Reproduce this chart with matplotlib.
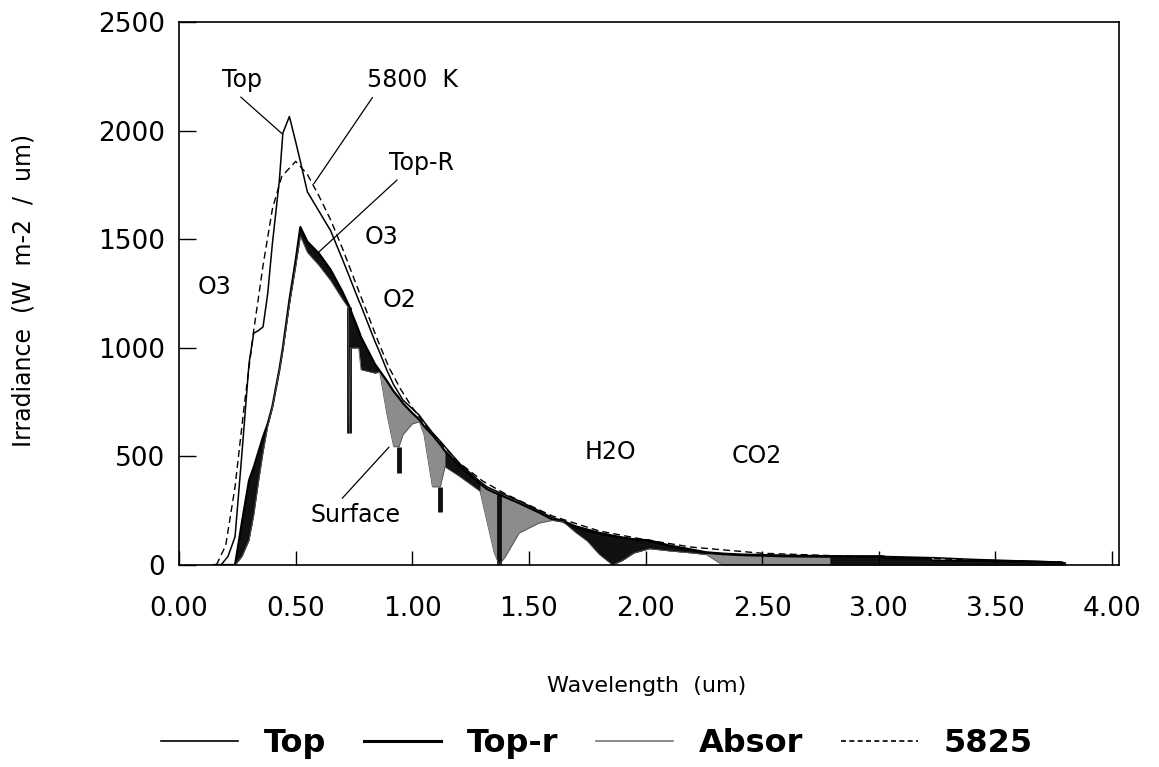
import numpy as np
import matplotlib
matplotlib.use("Agg")
import matplotlib.pyplot as plt
from matplotlib.lines import Line2D

# wavelength grid (um) and irradiances (W m-2 / um)
wl = [0.15, 0.18, 0.21, 0.24, 0.27, 0.30, 0.32, 0.34, 0.36, 0.38, 0.40, 0.43, 0.445,
      0.473, 0.50, 0.52, 0.55, 0.60, 0.65, 0.70, 0.726, 0.73, 0.735, 0.77, 0.78, 0.84,
      0.86, 0.89, 0.92, 0.943, 0.96, 1.00, 1.03, 1.05, 1.086, 1.12, 1.14, 1.20, 1.29,
      1.32, 1.35, 1.372, 1.40, 1.458, 1.543, 1.60, 1.645, 1.70, 1.75, 1.80, 1.858, 1.90,
      1.95, 2.016, 2.10, 2.20, 2.26, 2.33, 2.40, 2.60, 2.79, 3.02, 3.03, 3.22, 3.23,
      3.40, 3.60, 3.78, 3.80]
top = [0, 0, 40, 130, 520, 930, 1068, 1080, 1097, 1250, 1480, 1772, 1990,
       2067, 1950, 1860, 1720, 1630, 1540, 1410, 1340, 1330, 1315, 1220, 1195, 1030,
       980, 900, 830, 790, 760, 720, 690, 660, 610, 570, 545, 470, 385,
       360, 345, 335, 322, 295, 250, 218, 205, 180, 165, 150, 137, 128,
       120, 115, 92, 72, 60, 54, 50, 45, 42, 40, 39, 34, 34,
       26, 19, 13, 9]
top_r = [0, 0, 0, 0, 200, 390, 450, 520, 590, 650, 730, 900, 1000,
         1220, 1404, 1557, 1490, 1435, 1360, 1260, 1200, 1190, 1175, 1080, 1050, 925,
         895, 850, 800, 770, 745, 700, 670, 640, 600, 555, 525, 460, 375,
         350, 335, 325, 312, 285, 242, 210, 200, 174, 158, 145, 132, 125,
         117, 110, 88, 68, 56, 50, 46, 40, 38, 40, 31, 31, 20,
         19, 17, 12, 0]
surface = [0, 0, 0, 0, 40, 115, 230, 380, 520, 640, 725, 895, 990,
           1200, 1375, 1515, 1440, 1380, 1310, 1225, 1185, 607, 1000, 1000, 900, 884,
           890, 700, 545, 545, 600, 650, 660, 600, 360, 360, 452, 410, 340,
           200, 60, 0, 40, 147, 193, 205, 200, 150, 110, 50, 0, 20,
           55, 75, 65, 55, 48, 0, 0, 0, 0, 0, 0, 0, 0,
           0, 0, 0, 0]

# 5800 K black body curve (dashed)
bb_wl = [0.16, 0.20, 0.24, 0.28, 0.32, 0.36, 0.40, 0.44, 0.50, 0.55, 0.60, 0.65, 0.70,
         0.75, 0.80, 0.85, 0.90, 0.95, 1.00, 1.10, 1.20, 1.30, 1.40, 1.50, 1.60, 1.80,
         2.00, 2.20, 2.50, 2.80, 3.00, 3.50, 3.80]
bb = [0, 90, 360, 740, 1080, 1380, 1640, 1790, 1860, 1800, 1700, 1590, 1460,
      1320, 1180, 1040, 910, 810, 725, 585, 472, 388, 327, 276, 226, 157,
      116, 82, 54, 43, 37, 20, 12]

# bands that print black in the scan (rest of the absorbed area is grey)
black_bands = [(0.15, 0.86), (1.14, 1.29), (1.645, 2.26), (2.79, 3.80)]
# narrow black cores of the absorption bands
core_wl = [0.73, 0.943, 1.12, 1.372]
core_hi = [1190, 545, 360, 330]
core_lo = [607, 422, 245, 0]

wl = np.array(wl)
top = np.array(top)
top_r = np.array(top_r)
surface = np.array(surface)

plt.rcParams['font.family'] = 'DejaVu Sans'
fig = plt.figure(figsize=(11.59, 7.67), dpi=100)
ax = fig.add_axes([0.1545, 0.2634, 0.811, 0.7073])

# absorbed energy between Top-R and surface
ax.fill_between(wl, surface, top_r, color='#8c8c8c', lw=0)
for lo, hi in black_bands:
    m = (wl >= lo) & (wl <= hi)
    ax.fill_between(wl[m], surface[m], top_r[m], color='#111111', lw=0)
ax.vlines(core_wl, core_lo, core_hi, color='#111111', lw=3.5)

ax.plot(bb_wl, bb, color='black', lw=1.0, ls=(0, (5, 3)))
ax.plot(wl, top, color='black', lw=1.1)
ax.plot(wl, top_r, color='black', lw=1.6)
ax.plot(wl, surface, color='#555555', lw=0.6)

ax.set_xlim(0, 4.03)
ax.set_ylim(0, 2500)
ax.set_xticks(np.arange(0, 4.01, 0.5))
ax.set_xticklabels([f'{v:.2f}' for v in np.arange(0, 4.01, 0.5)])
ax.set_yticks(range(0, 2501, 500))
ax.tick_params(axis='x', direction='in', length=10, width=1, labelsize=19, pad=22,
               top=False)
ax.tick_params(axis='y', direction='in', length=12, width=1, labelsize=19, pad=10,
               right=False)
for s in ax.spines.values():
    s.set_linewidth(1.2)

ax.set_xlabel('Wavelength  (um)', fontsize=16)
ax.set_ylabel('Irradiance  (W  m-2  /  um)', fontsize=17)
ax.xaxis.set_label_coords(0.497, -0.205)
ax.yaxis.set_label_coords(-0.153, 0.506)

# labels on the plot
lp = dict(arrowstyle='-', lw=0.9, color='black', shrinkA=2, shrinkB=0)
ax.annotate('Top', xy=(0.441, 1988), xytext=(0.268, 2233), fontsize=17,
            ha='center', va='center', arrowprops=dict(lp, relpos=(0.35, 0)))
ax.annotate('5800  K', xy=(0.578, 1757), xytext=(1.0, 2233), fontsize=17,
            ha='center', va='center', arrowprops=dict(lp, relpos=(0.1, 0)))
ax.annotate('Top-R', xy=(0.599, 1442), xytext=(1.04, 1851), fontsize=17,
            ha='center', va='center', arrowprops=dict(lp, relpos=(0.2, 0)))
ax.annotate('Surface', xy=(0.90, 543), xytext=(0.758, 230), fontsize=17,
            ha='center', va='center', arrowprops=dict(lp, relpos=(0.3, 1)))
ax.text(0.867, 1510, 'O3', fontsize=17, ha='center', va='center')
ax.text(0.152, 1280, 'O3', fontsize=17, ha='center', va='center')
ax.text(0.943, 1220, 'O2', fontsize=17, ha='center', va='center')
ax.text(1.85, 520, 'H2O', fontsize=17, ha='center', va='center')
ax.text(2.475, 502, 'CO2', fontsize=17, ha='center', va='center')

handles = [Line2D([], [], color='black', lw=1.2),
           Line2D([], [], color='black', lw=2.2),
           Line2D([], [], color='#777777', lw=1.2),
           Line2D([], [], color='black', lw=1.2, ls=(0, (3, 2)))]
fig.legend(handles, ['Top', 'Top-r', 'Absor', '5825'], loc='center',
           bbox_to_anchor=(0.515, 0.03), ncol=4, frameon=False,
           prop=dict(weight='bold', size=23), handlelength=2.4, columnspacing=1.2,
           handletextpad=0.8)

fig.savefig('out.png', dpi=100, facecolor='white')
